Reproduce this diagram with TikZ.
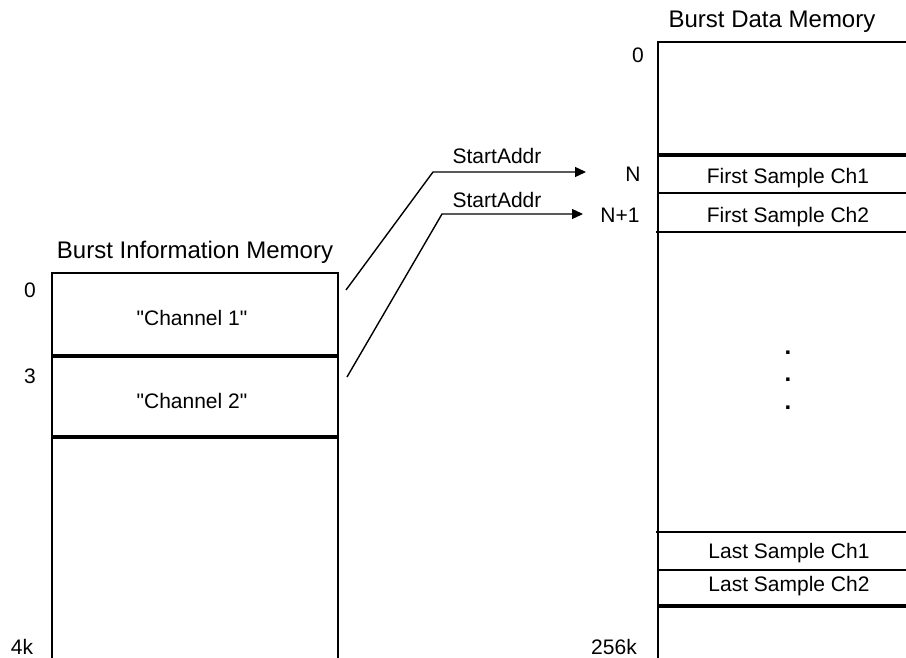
\documentclass[tikz,border=0pt]{standalone}
\usepackage{fontspec}
\setmainfont{Liberation Sans}
\usetikzlibrary{arrows.meta}
\definecolor{cBg}  {RGB}{255,255,255}
\definecolor{cLine}{RGB}{0,0,0}
\definecolor{cText}{RGB}{0,0,0}
\tikzset{
  lbl/.style={anchor=base,inner sep=0pt,text=cText,font=\fontsize{10.5}{12.6}\selectfont},
  ttl/.style={anchor=base,inner sep=0pt,text=cText,font=\fontsize{12}{14.4}\selectfont},
  dotlbl/.style={inner sep=0pt,text=cText,font=\fontsize{12}{14.4}\selectfont\bfseries},
  edge/.style={cLine,line width=1pt},
  heavy/.style={cLine,line width=1.6pt},
  fine/.style={cLine,line width=0.6pt},
  ptr/.style={cLine,line width=0.7pt,-{Triangle[length=5.5pt,width=5pt]}},
}

\begin{document}
\begin{tikzpicture}[x=0.5pt,y=-0.5pt]

% fundo
\fill[cBg] (0,0) rectangle (906,658);
\useasboundingbox (0,0) rectangle (906,658);

% =================== BURST INFORMATION MEMORY ===================
\node[ttl] (infoTitle) at (195,258) {Burst Information Memory};
\draw[edge] (52,658) -- (52,273) -- (338,273) -- (338,658);
\draw[heavy] (52,356) -- (338,356);
\draw[heavy] (52,437) -- (338,437);
\node[lbl] (ch1) at (192,325) {\textquotedbl Channel 1\textquotedbl};
\node[lbl] (ch2) at (192,408) {\textquotedbl Channel 2\textquotedbl};
% enderecos
\node[lbl] (infoA0) at (30,298) {0};
\node[lbl] (infoA3) at (30,383) {3};
\node[lbl] (infoA4k) at (22,654) {4k};

% =================== BURST DATA MEMORY ===================
\node[ttl] (dataTitle) at (772,28) {Burst Data Memory};
\draw[edge] (658,658) -- (658,42) -- (906,42);
\draw[heavy] (658,155) -- (906,155);
\draw[fine] (658,193) -- (906,193);
\draw[fine] (656,232) -- (906,232);
\draw[fine] (656,532) -- (906,532);
\draw[fine] (658,570) -- (906,570);
\draw[heavy] (658,606) -- (906,606);
\node[lbl] (first1) at (788,184) {First Sample Ch1};
\node[lbl] (first2) at (788,222) {First Sample Ch2};
\node[lbl] (last1) at (789,558) {Last Sample Ch1};
\node[lbl] (last2) at (789,591) {Last Sample Ch2};
% reticencias
\foreach \yy/\nm in {353/dotA,380/dotB,408/dotC}
  \node[dotlbl] (\nm) at (788,\yy) {.};
% enderecos
\node[lbl] (dataA0) at (638,63) {0};
\node[lbl] (addrN) at (633,182) {N};
\node[lbl] (addrN1) at (620,222) {N+1};
\node[lbl] (dataA256k) at (614,654) {256k};

% =================== PONTEIROS ===================
\coordinate (src1) at (346,290);
\coordinate (bend1) at (433,172);
\coordinate (tipN) at (586,172);
\coordinate (src2) at (347,377);
\coordinate (bend2) at (442,214);
\coordinate (tipN1) at (583,214);
\draw[ptr] (src1) -- (bend1) -- (tipN);
\draw[ptr] (src2) -- (bend2) -- (tipN1);
\node[lbl] (ptrLbl1) at (497,163) {StartAddr};
\node[lbl] (ptrLbl2) at (497,207) {StartAddr};

\end{tikzpicture}
\end{document}
